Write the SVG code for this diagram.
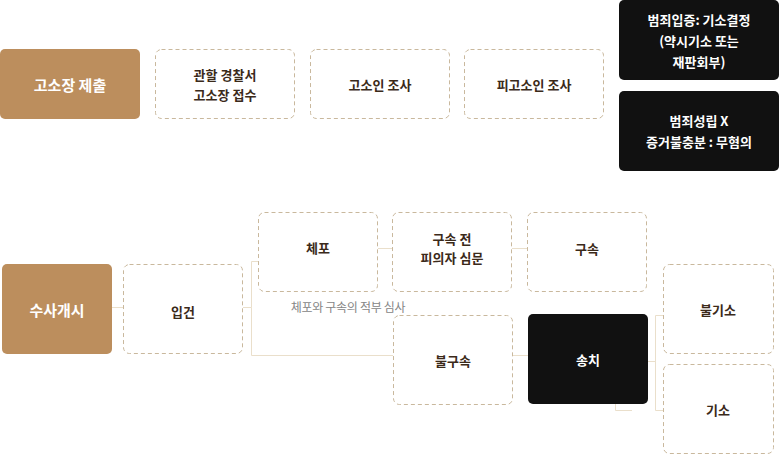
<svg xmlns="http://www.w3.org/2000/svg" width="779" height="454" viewBox="0 0 779 454">
<style>
text{font-family:"Noto Sans CJK KR","Noto Sans",sans-serif;font-weight:700;text-anchor:middle;dominant-baseline:central}
.d rect{fill:#fff;stroke:#c9b89d;stroke-width:1;stroke-dasharray:4 3}
.d text{fill:#3b2a1a;font-size:13px}
.g rect{fill:#bc8e5d}
.g text{fill:#fff;font-size:15px}
.k rect{fill:#111}
.k text{fill:#fff;font-size:13px}
.c{fill:none;stroke:#eadfcb;stroke-width:1}
.lbl{fill:#858585;font-size:12px;font-weight:400;letter-spacing:-0.3px}
</style>
<g id="connectors">
<path class="c" d="M112 307.5H123"/>
<path class="c" d="M243 307.5H251.5V261.5H258M251.5 307.5V355.5H393"/>
<path class="c" d="M378 248.5H392"/>
<path class="c" d="M512 248.5H527"/>
<path class="c" d="M512 355.5H528"/>
<path class="c" d="M648 361.5H655.5M655.5 315.5V410.5M655.5 315.5H663M655.5 410.5H663"/>
<path class="c" d="M615.5 404V410.5H632"/>
</g>
<g id="n1" class="g"><rect x="0" y="49" width="140" height="70" rx="5"/><text x="70" y="84">고소장 제출</text></g>
<g id="n2" class="d"><rect x="155.5" y="49.5" width="139" height="69" rx="6"/><text x="225" y="74">관할 경찰서</text><text x="225" y="94">고소장 접수</text></g>
<g id="n3" class="d"><rect x="310.5" y="49.5" width="139" height="69" rx="6"/><text x="380" y="84">고소인 조사</text></g>
<g id="n4" class="d"><rect x="464.5" y="49.5" width="139" height="69" rx="6"/><text x="534" y="84">피고소인 조사</text></g>
<g id="n5" class="k"><rect x="619" y="0" width="160" height="80" rx="5"/><text x="699" y="19">범죄입증: 기소결정</text><text x="699" y="40">(약시기소 또는</text><text x="699" y="61">재판회부)</text></g>
<g id="n6" class="k"><rect x="619" y="91" width="160" height="80" rx="5"/><text x="699" y="120">범죄성립 X</text><text x="699" y="141">증거불충분 : 무혐의</text></g>
<g id="n7" class="g"><rect x="2" y="264" width="110" height="90" rx="5"/><text x="57" y="309">수사개시</text></g>
<g id="n8" class="d"><rect x="123.5" y="264.5" width="119" height="89" rx="6"/><text x="183" y="311">입건</text></g>
<g id="n9" class="d"><rect x="258.5" y="212.5" width="119" height="79" rx="6"/><text x="318" y="247">체포</text></g>
<g id="n10" class="d"><rect x="392.5" y="212.5" width="119" height="79" rx="6"/><text x="452" y="238">구속 전</text><text x="452" y="257">피의자 심문</text></g>
<g id="n11" class="d"><rect x="527.5" y="212.5" width="119" height="79" rx="6"/><text x="587" y="248">구속</text></g>
<g id="n12" class="d"><rect x="393.5" y="315.5" width="119" height="89" rx="6"/><text x="453" y="360">불구속</text></g>
<g id="n13" class="k"><rect x="528" y="314" width="120" height="90" rx="5"/><text x="588" y="359">송치</text></g>
<g id="n14" class="d"><rect x="663.5" y="264.5" width="110" height="89" rx="6"/><text x="718" y="309">불기소</text></g>
<g id="n15" class="d"><rect x="663.5" y="364.5" width="110" height="89" rx="6"/><text x="718" y="409">기소</text></g>
<text class="lbl" x="348" y="306">체포와 구속의 적부 심사</text>
</svg>
